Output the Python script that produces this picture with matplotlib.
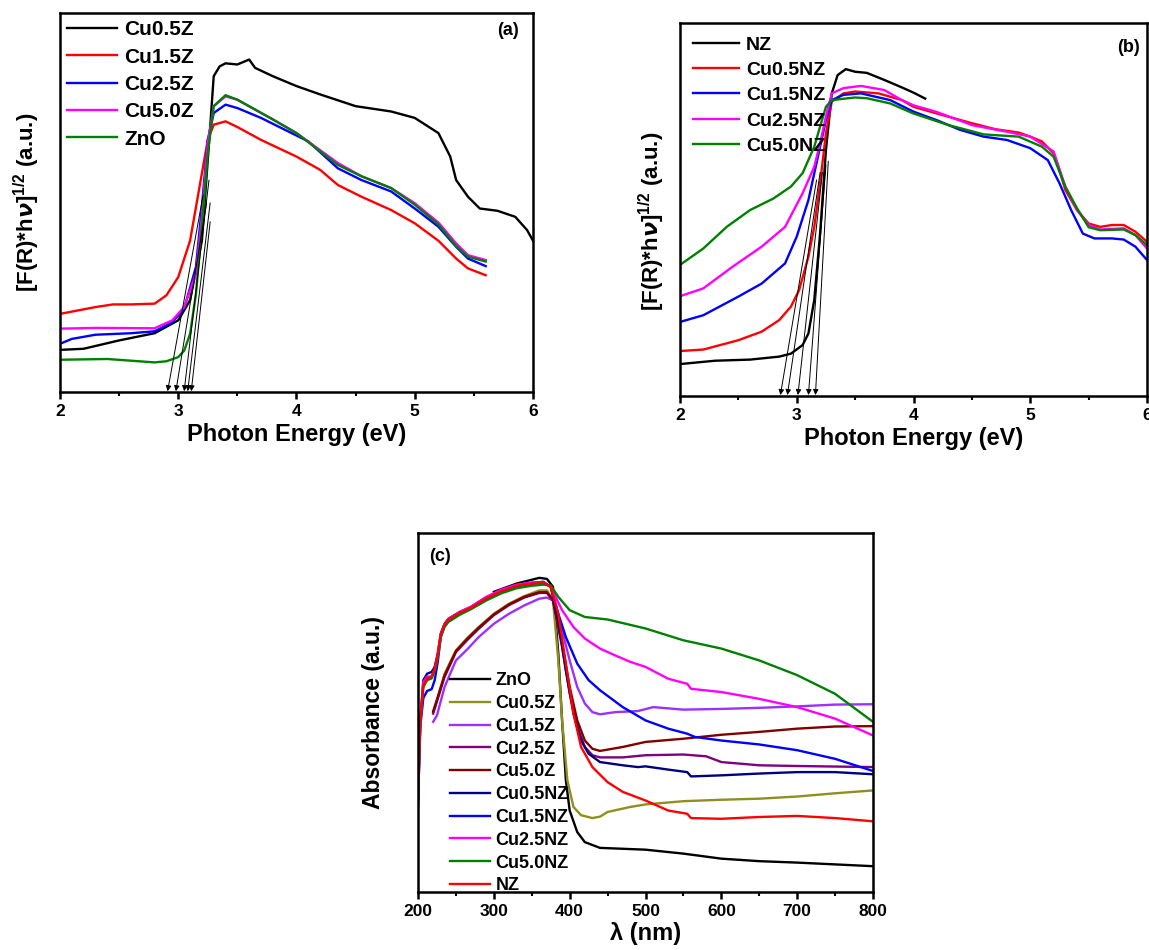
import numpy as np
import matplotlib
matplotlib.use("Agg")
import matplotlib.pyplot as plt
from matplotlib.ticker import MultipleLocator

plt.rcParams['font.family'] = ['Liberation Sans', 'DejaVu Sans']
plt.rcParams['font.weight'] = 'bold'
plt.rcParams['axes.labelweight'] = 'bold'
plt.rcParams['mathtext.fontset'] = 'custom'
plt.rcParams['mathtext.rm'] = 'Liberation Sans'
plt.rcParams['mathtext.bf'] = 'Liberation Sans:bold'

# ---------------- Panel (a) data ----------------
a_cu05z_x = [2.0, 2.2, 2.5, 2.8, 3.0, 3.1, 3.2, 3.27, 3.3, 3.35, 3.4, 3.5, 3.6, 3.65, 3.8, 4.0, 4.2, 4.5, 4.8, 5.0, 5.2, 5.3, 5.35, 5.45, 5.55, 5.7, 5.85, 5.95, 6.0]
a_cu05z_y = [0.112, 0.115, 0.137, 0.156, 0.19, 0.243, 0.40, 0.70, 0.834, 0.86, 0.868, 0.865, 0.878, 0.856, 0.834, 0.808, 0.786, 0.755, 0.741, 0.724, 0.684, 0.622, 0.56, 0.516, 0.485, 0.479, 0.463, 0.428, 0.40]
a_cu15z_x = [2.0, 2.3, 2.45, 2.6, 2.8, 2.9, 3.0, 3.1, 3.2, 3.25, 3.3, 3.4, 3.5, 3.7, 4.0, 4.2, 4.35, 4.55, 4.8, 5.0, 5.2, 5.35, 5.45, 5.6]
a_cu15z_y = [0.207, 0.225, 0.232, 0.232, 0.234, 0.256, 0.304, 0.40, 0.578, 0.666, 0.706, 0.715, 0.70, 0.666, 0.622, 0.587, 0.547, 0.516, 0.481, 0.446, 0.40, 0.353, 0.327, 0.309]
a_cu25z_x = [2.0, 2.1, 2.3, 2.6, 2.8, 2.95, 3.05, 3.15, 3.2, 3.25, 3.3, 3.4, 3.5, 3.7, 3.9, 4.1, 4.35, 4.55, 4.8, 5.0, 5.2, 5.35, 5.45, 5.6]
a_cu25z_y = [0.128, 0.141, 0.152, 0.156, 0.161, 0.185, 0.221, 0.331, 0.49, 0.666, 0.737, 0.759, 0.75, 0.724, 0.693, 0.662, 0.591, 0.56, 0.53, 0.485, 0.437, 0.384, 0.353, 0.333]
a_cu50z_x = [2.0, 2.3, 2.8, 2.95, 3.05, 3.15, 3.2, 3.25, 3.3, 3.4, 3.5, 3.8, 4.0, 4.35, 4.55, 4.8, 5.0, 5.2, 5.35, 5.45, 5.6]
a_cu50z_y = [0.168, 0.170, 0.169, 0.19, 0.225, 0.313, 0.463, 0.658, 0.755, 0.781, 0.772, 0.72, 0.684, 0.605, 0.57, 0.539, 0.499, 0.448, 0.393, 0.362, 0.349]
a_zno_x = [2.0, 2.4, 2.8, 2.9, 3.0, 3.05, 3.1, 3.15, 3.2, 3.25, 3.3, 3.4, 3.5, 3.8, 4.0, 4.35, 4.55, 4.8, 5.0, 5.2, 5.35, 5.45, 5.6]
a_zno_y = [0.086, 0.088, 0.079, 0.082, 0.093, 0.11, 0.154, 0.26, 0.437, 0.631, 0.755, 0.784, 0.772, 0.72, 0.684, 0.60, 0.57, 0.539, 0.495, 0.443, 0.386, 0.358, 0.345]
a_labels = ['Cu0.5Z', 'Cu1.5Z', 'Cu2.5Z', 'Cu5.0Z', 'ZnO']
a_colors = ['black', '#ff0000', '#0000ff', '#ff00ff', '#008000']
a_arrow_tip = [2.91, 2.98, 3.05, 3.08, 3.11]
a_arrow_sx = [3.21, 3.24, 3.26, 3.27, 3.27]
a_arrow_sy = [0.52, 0.50, 0.56, 0.50, 0.45]

# ---------------- Panel (b) data ----------------
b_nz_x = [2.0, 2.3, 2.6, 2.85, 2.95, 3.05, 3.1, 3.15, 3.2, 3.25, 3.3, 3.35, 3.42, 3.5, 3.6, 3.75, 3.9, 4.0, 4.1]
b_nz_y = [0.086, 0.095, 0.098, 0.106, 0.114, 0.137, 0.168, 0.258, 0.436, 0.66, 0.812, 0.861, 0.877, 0.87, 0.867, 0.848, 0.828, 0.814, 0.798]
b_cu05_x = [2.0, 2.2, 2.5, 2.7, 2.85, 2.95, 3.02, 3.1, 3.15, 3.2, 3.25, 3.3, 3.4, 3.5, 3.7, 3.9, 4.0, 4.2, 4.5, 4.7, 4.9, 5.0, 5.1, 5.2, 5.25, 5.3, 5.4, 5.5, 5.6, 5.7, 5.8, 5.9, 6.0]
b_cu05_y = [0.121, 0.125, 0.15, 0.173, 0.204, 0.24, 0.284, 0.374, 0.454, 0.571, 0.705, 0.79, 0.812, 0.817, 0.812, 0.794, 0.776, 0.758, 0.732, 0.716, 0.707, 0.696, 0.683, 0.651, 0.606, 0.553, 0.499, 0.463, 0.454, 0.459, 0.459, 0.441, 0.414]
b_cu15_x = [2.0, 2.2, 2.5, 2.7, 2.9, 3.0, 3.1, 3.2, 3.25, 3.3, 3.4, 3.55, 3.8, 4.0, 4.2, 4.4, 4.6, 4.8, 5.0, 5.15, 5.25, 5.35, 5.45, 5.55, 5.7, 5.8, 5.9, 6.0]
b_cu15_y = [0.199, 0.217, 0.267, 0.302, 0.356, 0.428, 0.526, 0.669, 0.741, 0.794, 0.808, 0.812, 0.794, 0.763, 0.74, 0.714, 0.696, 0.687, 0.665, 0.633, 0.571, 0.499, 0.436, 0.423, 0.423, 0.42, 0.401, 0.365]
b_cu25_x = [2.0, 2.2, 2.45, 2.7, 2.9, 3.05, 3.15, 3.2, 3.25, 3.3, 3.4, 3.55, 3.75, 3.9, 4.0, 4.2, 4.5, 4.8, 5.0, 5.2, 5.3, 5.4, 5.5, 5.6, 5.8, 5.9, 6.0]
b_cu25_y = [0.268, 0.289, 0.347, 0.401, 0.454, 0.544, 0.615, 0.678, 0.75, 0.812, 0.826, 0.832, 0.821, 0.794, 0.78, 0.762, 0.727, 0.709, 0.696, 0.656, 0.562, 0.499, 0.459, 0.447, 0.45, 0.432, 0.396]
b_cu50_x = [2.0, 2.2, 2.4, 2.6, 2.8, 2.95, 3.05, 3.15, 3.2, 3.25, 3.3, 3.5, 3.6, 3.8, 4.0, 4.3, 4.6, 4.9, 5.1, 5.2, 5.3, 5.4, 5.5, 5.6, 5.8, 5.9, 6.0]
b_cu50_y = [0.352, 0.396, 0.454, 0.499, 0.53, 0.562, 0.598, 0.669, 0.723, 0.776, 0.794, 0.801, 0.799, 0.785, 0.758, 0.727, 0.702, 0.696, 0.669, 0.642, 0.562, 0.504, 0.453, 0.445, 0.447, 0.432, 0.405]
b_labels = ['NZ', 'Cu0.5NZ', 'Cu1.5NZ', 'Cu2.5NZ', 'Cu5.0NZ']
b_colors = ['black', '#ff0000', '#0000ff', '#ff00ff', '#008000']
b_arrow_tip = [2.86, 2.92, 3.01, 3.10, 3.16]
b_arrow_sx = [3.17, 3.20, 3.22, 3.25, 3.27]
b_arrow_sy = [0.58, 0.60, 0.60, 0.62, 0.63]

# ---------------- Panel (c) data ----------------
c_zno_x = [300, 330, 360, 370, 378, 385, 390, 395, 400, 410, 420, 440, 500, 550, 600, 650, 700, 800]
c_zno_y = [0.836, 0.859, 0.875, 0.872, 0.85, 0.664, 0.478, 0.311, 0.227, 0.167, 0.139, 0.123, 0.118, 0.107, 0.093, 0.086, 0.082, 0.072]
c_cu05z_x = [220, 225, 235, 250, 265, 280, 300, 320, 340, 360, 370, 378, 385, 390, 397, 405, 415, 430, 440, 450, 480, 500, 550, 600, 650, 700, 750, 800]
c_cu05z_y = [0.501, 0.534, 0.608, 0.673, 0.708, 0.738, 0.775, 0.803, 0.824, 0.84, 0.84, 0.812, 0.645, 0.478, 0.311, 0.237, 0.214, 0.206, 0.21, 0.223, 0.237, 0.244, 0.253, 0.257, 0.26, 0.266, 0.275, 0.283]
c_cu15z_x = [220, 225, 235, 250, 265, 280, 300, 320, 340, 360, 370, 378, 390, 400, 410, 420, 430, 440, 460, 490, 510, 550, 600, 650, 700, 750, 800]
c_cu15z_y = [0.474, 0.492, 0.571, 0.645, 0.676, 0.71, 0.747, 0.775, 0.798, 0.817, 0.82, 0.812, 0.729, 0.645, 0.571, 0.525, 0.501, 0.495, 0.501, 0.504, 0.515, 0.508, 0.51, 0.513, 0.517, 0.522, 0.523]
c_cu25z_x = [220, 235, 250, 265, 280, 300, 320, 340, 360, 370, 378, 390, 400, 410, 420, 430, 440, 470, 500, 550, 580, 600, 650, 700, 800]
c_cu25z_y = [0.497, 0.599, 0.668, 0.702, 0.733, 0.771, 0.799, 0.82, 0.833, 0.833, 0.812, 0.682, 0.553, 0.46, 0.404, 0.381, 0.375, 0.375, 0.381, 0.383, 0.378, 0.362, 0.353, 0.351, 0.348]
c_cu50z_x = [220, 235, 250, 265, 280, 300, 320, 340, 360, 370, 378, 390, 400, 410, 420, 430, 440, 470, 500, 550, 600, 650, 700, 750, 800]
c_cu50z_y = [0.503, 0.603, 0.671, 0.705, 0.736, 0.773, 0.801, 0.822, 0.835, 0.835, 0.812, 0.692, 0.571, 0.478, 0.422, 0.399, 0.393, 0.404, 0.418, 0.427, 0.438, 0.446, 0.455, 0.461, 0.462]
c_cu05nz_x = [200, 203, 207, 212, 218, 222, 226, 230, 235, 240, 255, 270, 290, 310, 330, 350, 365, 375, 385, 395, 405, 415, 425, 440, 470, 490, 500, 530, 555, 560, 600, 650, 700, 750, 800]
c_cu05nz_y = [0.265, 0.478, 0.59, 0.608, 0.613, 0.627, 0.664, 0.72, 0.747, 0.761, 0.78, 0.794, 0.82, 0.84, 0.855, 0.861, 0.864, 0.85, 0.757, 0.617, 0.497, 0.422, 0.385, 0.362, 0.353, 0.348, 0.35, 0.341, 0.334, 0.322, 0.325, 0.33, 0.334, 0.334, 0.328]
c_cu15nz_x = [200, 203, 207, 212, 218, 222, 226, 230, 235, 240, 255, 270, 290, 310, 330, 350, 365, 375, 385, 395, 410, 425, 440, 470, 500, 530, 555, 565, 600, 650, 700, 750, 800]
c_cu15nz_y = [0.25, 0.46, 0.54, 0.56, 0.565, 0.59, 0.64, 0.71, 0.742, 0.757, 0.777, 0.79, 0.816, 0.837, 0.852, 0.858, 0.862, 0.85, 0.775, 0.71, 0.636, 0.59, 0.562, 0.515, 0.478, 0.455, 0.441, 0.432, 0.422, 0.411, 0.395, 0.371, 0.337]
c_cu25nz_x = [200, 203, 207, 212, 218, 222, 226, 230, 235, 240, 255, 270, 290, 310, 330, 350, 365, 375, 390, 405, 420, 440, 460, 480, 500, 530, 555, 560, 600, 650, 700, 750, 800]
c_cu25nz_y = [0.24, 0.47, 0.585, 0.6, 0.6, 0.62, 0.66, 0.717, 0.745, 0.76, 0.78, 0.795, 0.822, 0.842, 0.856, 0.862, 0.862, 0.85, 0.785, 0.738, 0.706, 0.678, 0.659, 0.641, 0.627, 0.594, 0.58, 0.566, 0.557, 0.538, 0.515, 0.483, 0.436]
c_cu50nz_x = [200, 203, 207, 212, 218, 222, 226, 230, 235, 240, 255, 270, 290, 310, 330, 350, 365, 375, 385, 400, 420, 450, 500, 550, 600, 650, 700, 750, 800]
c_cu50nz_y = [0.26, 0.47, 0.57, 0.59, 0.595, 0.615, 0.652, 0.71, 0.738, 0.752, 0.772, 0.788, 0.812, 0.832, 0.846, 0.853, 0.856, 0.854, 0.822, 0.785, 0.766, 0.759, 0.734, 0.701, 0.678, 0.645, 0.604, 0.552, 0.474]
c_nz_x = [200, 203, 207, 212, 218, 222, 226, 230, 235, 240, 255, 270, 290, 310, 330, 350, 365, 375, 385, 395, 405, 415, 430, 450, 470, 500, 530, 555, 560, 600, 650, 700, 750, 800]
c_nz_y = [0.27, 0.48, 0.575, 0.595, 0.6, 0.622, 0.66, 0.716, 0.744, 0.758, 0.778, 0.792, 0.818, 0.838, 0.853, 0.859, 0.862, 0.85, 0.775, 0.636, 0.497, 0.404, 0.348, 0.306, 0.279, 0.255, 0.227, 0.218, 0.206, 0.204, 0.209, 0.212, 0.206, 0.197]
c_labels = ['ZnO', 'Cu0.5Z', 'Cu1.5Z', 'Cu2.5Z', 'Cu5.0Z', 'Cu0.5NZ', 'Cu1.5NZ', 'Cu2.5NZ', 'Cu5.0NZ', 'NZ']
c_colors = ['black', '#8f8f1f', '#9b30ff', '#800080', '#800000', '#000080', '#0000ff', '#ff00ff', '#008000', '#ff0000']

# ---------------- Figure ----------------
fig = plt.figure(figsize=(11.49, 9.5), dpi=100)
ax_a = fig.add_axes([0.0522, 0.587, 0.4117, 0.399])
ax_b = fig.add_axes([0.5918, 0.583, 0.4065, 0.3925])
ax_c = fig.add_axes([0.3638, 0.061, 0.3960, 0.378])


def style(ax, xmaj, xmin):
    for sp in ax.spines.values():
        sp.set_linewidth(1.8)
    ax.xaxis.set_major_locator(MultipleLocator(xmaj))
    ax.xaxis.set_minor_locator(MultipleLocator(xmin))
    ax.tick_params(axis='x', which='major', direction='out', length=5, width=1.8,
                   labelsize=12.5, top=False)
    ax.tick_params(axis='x', which='minor', direction='out', length=3, width=1.5, top=False)
    ax.tick_params(axis='y', which='both', left=False, right=False, labelleft=False)
    for lab in ax.get_xticklabels():
        lab.set_fontweight('bold')


ylab = r'[F(R)*h$\nu$]$^{1/2}$ (a.u.)'

# Panel (a)
a_series = [(a_cu05z_x, a_cu05z_y), (a_cu15z_x, a_cu15z_y), (a_cu25z_x, a_cu25z_y),
            (a_cu50z_x, a_cu50z_y), (a_zno_x, a_zno_y)]
for (x, y), lab, col in zip(a_series, a_labels, a_colors):
    ax_a.plot(x, y, color=col, lw=1.7, label=lab)
for tx, sx, sy in zip(a_arrow_tip, a_arrow_sx, a_arrow_sy):
    ax_a.annotate('', xy=(tx, 0.003), xytext=(sx, sy),
                  arrowprops=dict(arrowstyle='-|>', lw=0.7, color='black', mutation_scale=8,
                                  shrinkA=0, shrinkB=0))
ax_a.set_xlim(2, 6)
ax_a.set_ylim(0, 1)
style(ax_a, 1, 0.5)
ax_a.set_xlabel('Photon Energy (eV)', fontsize=17, fontweight='bold', labelpad=3)
ax_a.set_ylabel(ylab, fontsize=16, fontweight='bold', labelpad=13)
ax_a.legend(loc='upper left', bbox_to_anchor=(0.0, 1.0), frameon=False,
            handlelength=2.4, handletextpad=0.35, labelspacing=0.4, borderaxespad=0.0,
            borderpad=0.33, prop={'weight': 'bold', 'size': 15})
ax_a.text(0.97, 0.955, '(a)', transform=ax_a.transAxes, ha='right', va='center',
          fontsize=13, fontweight='bold')

# Panel (b)
b_series = [(b_nz_x, b_nz_y), (b_cu05_x, b_cu05_y), (b_cu15_x, b_cu15_y),
            (b_cu25_x, b_cu25_y), (b_cu50_x, b_cu50_y)]
for (x, y), lab, col in zip(b_series, b_labels, b_colors):
    ax_b.plot(x, y, color=col, lw=1.7, label=lab)
for tx, sx, sy in zip(b_arrow_tip, b_arrow_sx, b_arrow_sy):
    ax_b.annotate('', xy=(tx, 0.003), xytext=(sx, sy),
                  arrowprops=dict(arrowstyle='-|>', lw=0.7, color='black', mutation_scale=8,
                                  shrinkA=0, shrinkB=0))
ax_b.set_xlim(2, 6)
ax_b.set_ylim(0, 1)
style(ax_b, 1, 0.5)
ax_b.set_xlabel('Photon Energy (eV)', fontsize=17, fontweight='bold', labelpad=3)
ax_b.set_ylabel(ylab, fontsize=16, fontweight='bold')
ax_b.yaxis.set_label_coords(-0.027, 0.47)
ax_b.legend(loc='upper left', bbox_to_anchor=(0.0, 1.0), frameon=False,
            handlelength=2.4, handletextpad=0.35, labelspacing=0.4, borderaxespad=0.1,
            borderpad=0.55, prop={'weight': 'bold', 'size': 14})
ax_b.text(0.985, 0.935, '(b)', transform=ax_b.transAxes, ha='right', va='center',
          fontsize=13, fontweight='bold')

# Panel (c)
c_series = [(c_zno_x, c_zno_y), (c_cu05z_x, c_cu05z_y), (c_cu15z_x, c_cu15z_y),
            (c_cu25z_x, c_cu25z_y), (c_cu50z_x, c_cu50z_y), (c_cu05nz_x, c_cu05nz_y),
            (c_cu15nz_x, c_cu15nz_y), (c_cu25nz_x, c_cu25nz_y), (c_cu50nz_x, c_cu50nz_y),
            (c_nz_x, c_nz_y)]
handles = []
for (x, y), lab, col in zip(c_series, c_labels, c_colors):
    h, = ax_c.plot(x, y, color=col, lw=1.7, label=lab)
    handles.append(h)
ax_c.set_xlim(200, 800)
ax_c.set_ylim(0, 1)
style(ax_c, 100, 50)
ax_c.set_xlabel('λ (nm)', fontsize=17, fontweight='bold', labelpad=2)
ax_c.set_ylabel('Absorbance (a.u.)', fontsize=16.5, fontweight='bold', labelpad=24)
ax_c.legend(handles=handles, loc='upper left', bbox_to_anchor=(0.055, 0.632), frameon=False,
            handlelength=2.2, handletextpad=0.3, labelspacing=0.32, borderaxespad=0.0,
            prop={'weight': 'bold', 'size': 13})
ax_c.text(0.025, 0.935, '(c)', transform=ax_c.transAxes, ha='left', va='center',
          fontsize=13, fontweight='bold')

fig.savefig('out.png', dpi=100)
